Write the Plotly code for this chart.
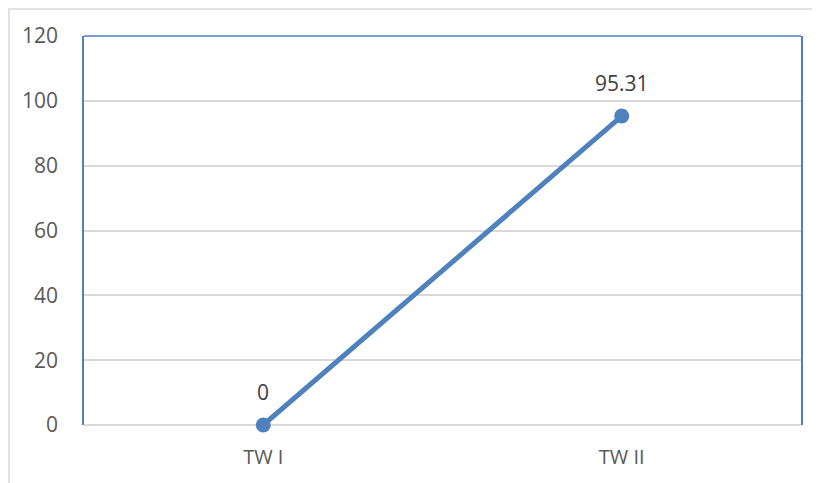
import plotly.graph_objects as go

categories = ["TW I", "TW II"]
values = [0, 95.31]
value_labels = ["0", "95.31"]
y_ticks = [0, 20, 40, 60, 80, 100, 120]

# page body has an 8px margin, so the figure is drawn at (8, 8)
W, H = 812, 475
L, T = 76, 28
pw, ph = 717, 389
R, B = W - L - pw, H - T - ph

blue = "#4F81BD"
grid = "#D9D9D9"
tick_color = "#595959"
font_family = "Open Sans, Liberation Sans, sans-serif"

fig = go.Figure()
fig.add_trace(go.Scatter(
    x=categories, y=values, mode="lines+markers",
    line=dict(color=blue, width=5),
    marker=dict(color=blue, size=15),
    cliponaxis=False,
    showlegend=False, hoverinfo="skip",
))

for c, v, t in zip(categories, values, value_labels):
    fig.add_annotation(x=c, y=v, text=t, showarrow=False, yshift=33,
                       font=dict(family=font_family, size=21, color="#404040"))

# outer chart border
fig.add_shape(type="rect", xref="paper", yref="paper",
              x0=(1 - L) / pw, x1=(W + 10 - L) / pw,
              y0=-(H + 10 - T - ph) / ph, y1=1 + (T - 1) / ph,
              line=dict(color=grid, width=1.5), layer="below")
# blue top border of plot area
fig.add_shape(type="line", xref="paper", yref="paper", x0=0, x1=1, y0=1, y1=1,
              line=dict(color=blue, width=1.5))

fig.update_layout(
    width=W, height=H,
    margin=dict(l=L, r=R, t=T, b=B),
    paper_bgcolor="white", plot_bgcolor="white",
    font=dict(family=font_family, size=20, color=tick_color),
    xaxis=dict(type="category", range=[-0.5, 1.5], showgrid=False, zeroline=False,
               showline=False, ticks="", ticklabelstandoff=18,
               tickfont=dict(size=20, color=tick_color), fixedrange=True),
    yaxis=dict(range=[0, 120], tickvals=y_ticks, ticktext=[str(v) for v in y_ticks],
               showgrid=True, gridcolor=grid, gridwidth=1.5,
               zeroline=True, zerolinecolor=grid, zerolinewidth=1.5,
               showline=True, mirror=True, linecolor=blue, linewidth=1.5,
               ticks="", ticklabelstandoff=20,
               tickfont=dict(size=21, color=tick_color), fixedrange=True),
)

fig.write_html("out.html")
